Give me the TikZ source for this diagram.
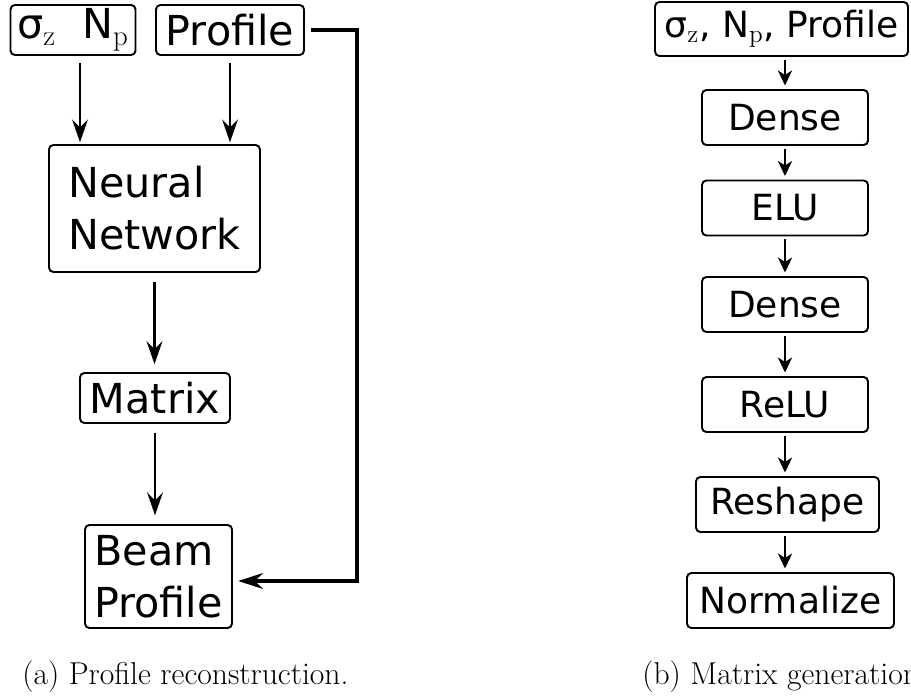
\documentclass[tikz,border=0pt]{standalone}
\usepackage{fontspec}
\newfontfamily\boxfont{DejaVu Sans}
\usepackage{tikz}
\usetikzlibrary{arrows.meta,positioning}

\tikzset{
	blk/.style={draw, line width=1.1pt, rounded corners=2.5pt, inner sep=2pt,
		font=\boxfont\fontsize{23.5}{29.5}\selectfont, minimum height=1cm},
	lyr/.style={blk, font=\boxfont\fontsize{20.5}{24}\selectfont,
		minimum width=3.32cm, minimum height=1.1cm},
	flow/.style={-{Stealth[length=13pt,width=9pt,inset=4.5pt]}, line width=1.4pt},
	lyrflow/.style={-{Stealth[length=8.5pt,width=8pt,inset=2.5pt]}, line width=1.6pt,
		shorten <=1.5pt, shorten >=2pt},
	fback/.style={-{Stealth[length=14pt,width=9pt,inset=4.5pt]}, line width=1.8pt},
	captext/.style={anchor=base west, inner sep=0pt, font=\fontsize{18}{21}\selectfont}
}

\begin{document}
\begin{tikzpicture}
	\useasboundingbox (0,0) rectangle (18.22,13.96);
	% (a) profile reconstruction
	\node[blk, minimum width=2.5cm] (sig) at (1.46,13.36) {σ$_{\mathrm{z}}$\ \ N$_{\mathrm{p}}$};
	\node[blk, minimum width=2.96cm] (prof) at (4.6,13.36) {Profile};
	\node[blk, align=left, minimum width=4.22cm, minimum height=2.54cm] (nn) at (3.09,9.79) {Neural\\Network};
	\node[blk, minimum width=3.0cm] (mat) at (3.1,6.0) {Matrix};
	\node[blk, align=left, minimum width=2.94cm, minimum height=2.06cm] (beam) at (3.17,2.43) {Beam\\Profile};
	\coordinate (in1) at ([xshift=1.4mm]sig.south);
	\coordinate (fb) at (7.14,13.4);
	\draw[flow, shorten <=4pt, shorten >=1pt] (in1) -- (in1 |- nn.north);
	\draw[flow, shorten <=4pt, shorten >=1pt] (prof.south) -- (prof.south |- nn.north);
	\draw[flow, shorten <=5pt, shorten >=4.5pt] (nn.south) -- (nn.south |- mat.north);
	\draw[flow, shorten <=5pt, shorten >=5pt] (mat.south) -- (mat.south |- beam.north);
	\draw[fback, shorten <=3.5pt, shorten >=3pt] (prof.east) -- (prof.east -| fb) |- ([yshift=-0.9mm]beam.east);
	% (b) matrix generation
	\node[blk, font=\boxfont\fontsize{20.5}{24}\selectfont, minimum width=5.06cm, minimum height=1.08cm] (inp) at (15.63,13.38) {σ$_{\mathrm{z}}$, N$_{\mathrm{p}}$, Profile};
	\node[lyr] (d1) at (15.7,11.61) {Dense};
	\node[lyr] (elu) at (15.7,9.80) {ELU};
	\node[lyr] (d2) at (15.7,7.87) {Dense};
	\node[lyr] (relu) at (15.7,5.87) {ReLU};
	\node[lyr, minimum width=3.66cm] (resh) at (15.75,3.87) {Reshape};
	\node[lyr, minimum width=4.14cm] (norm) at (15.81,1.95) {Normalize};
	\draw[lyrflow] (inp.south -| d1.south) -- (d1.north);
	\draw[lyrflow] (d1.south) -- (elu.north);
	\draw[lyrflow] (elu.south) -- (d2.north);
	\draw[lyrflow] (d2.south) -- (relu.north);
	\draw[lyrflow] (relu.south) -- (relu.south |- resh.north);
	\draw[lyrflow] (relu.south |- resh.south) -- (relu.south |- norm.north);
	% captions
	\node[captext] (capa) at (0.44,0.28) {(a) Profile reconstruction.};
	\node[captext] (capb) at (12.84,0.28) {(b) Matrix generation};
\end{tikzpicture}
\end{document}
